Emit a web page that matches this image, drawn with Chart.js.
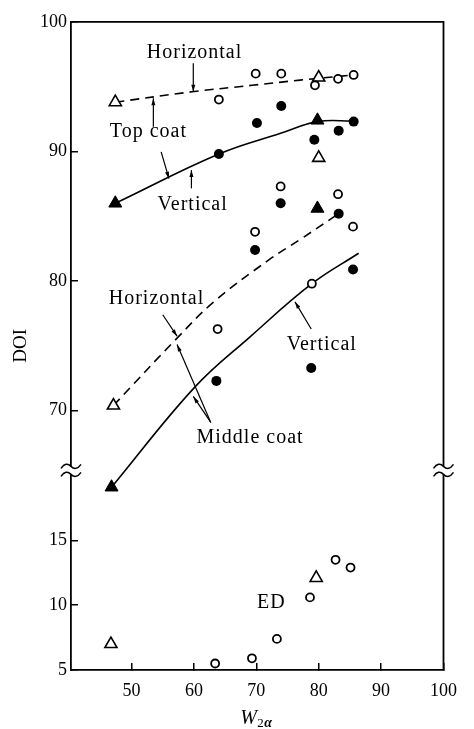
<!DOCTYPE html>
<html>
<head>
<meta charset="utf-8">
<script src="https://cdn.jsdelivr.net/npm/chart.js@4.4.0/dist/chart.umd.min.js"></script>
<style>
  html, body { margin: 0; padding: 0; background: #fff; }
  canvas { display: block; }
</style>
</head>
<body>
<canvas id="doiChart" width="474" height="729"></canvas>
<script>
// tick labels
const xTicks = [50, 60, 70, 80, 90, 100];
const yTicksLower = [5, 10, 15];
const yTicksUpper = [70, 80, 90, 100];

// measured points (W2a, DOI)
const openCircleX = [64.0, 69.9, 74.0, 79.4, 83.1, 85.6, 73.9, 83.1, 85.5, 69.8, 78.9, 63.8, 63.4, 69.3, 73.3, 78.6, 82.7, 85.1];
const openCircleY = [94.0, 96.0, 96.0, 95.1, 95.6, 95.9, 87.3, 86.7, 84.2, 83.8, 79.8, 76.3, 5.5, 5.9, 7.4, 10.6, 13.5, 12.9];

const filledCircleX = [64.0, 70.1, 74.0, 79.3, 83.2, 85.6, 73.9, 83.2, 69.8, 85.5, 63.6, 78.8];
const filledCircleY = [89.8, 92.2, 93.5, 90.9, 91.6, 92.3, 86.0, 85.2, 82.4, 80.9, 72.3, 73.3];

const openTriangleX = [47.4, 80.0, 80.0, 47.1, 46.7, 79.6];
const openTriangleY = [93.8, 95.7, 89.5, 70.4, 7.0, 12.1];

const filledTriangleX = [47.4, 79.8, 79.8, 46.8];
const filledTriangleY = [86.0, 92.4, 85.6, 64.1];

// fitted curves
const topHorizontalX = [47.4, 59.7, 69.3, 77.0, 85.6];
const topHorizontalY = [93.8, 94.6, 95.1, 95.5, 95.9];
const topVerticalX = [47.4, 64.0, 73.9, 79.8, 85.6];
const topVerticalY = [86.0, 89.8, 91.4, 92.3, 92.35];
const middleHorizontalX = [47.1, 57.3, 63.2, 71.9, 77.0, 83.2];
const middleHorizontalY = [70.4, 75.6, 78.4, 81.6, 83.2, 85.2];
const middleVerticalX = [46.8, 60.1, 69.0, 78.9, 86.4];
const middleVerticalY = [64.1, 71.8, 75.7, 79.8, 82.15];

// broken axis: upper part shifted down by 45
const toAxis = v => (v > 40 ? v - 45 : v);
const fromAxis = v => (v > 20 ? v + 45 : v);
const breakAt = 20.4;

const serif = '"Liberation Serif", "DejaVu Serif", serif';

function pts(xs, ys) {
  return xs.map((x, i) => ({ x: x, y: toAxis(ys[i]) }));
}

function curve(xs, ys, dashed) {
  return {
    data: pts(xs, ys),
    showLine: true,
    borderColor: '#000',
    borderWidth: 1.6,
    borderDash: dashed ? [9, 6] : [],
    pointRadius: 0,
    tension: 0.4,
    order: 2
  };
}

// annotation texts and leader lines (data units)
const notes = [
  { text: 'Horizontal', x: 60.1, y: 97.2 },
  { text: 'Top coat', x: 52.7, y: 91.1 },
  { text: 'Vertical', x: 59.8, y: 85.5 },
  { text: 'Horizontal', x: 54.0, y: 78.2 },
  { text: 'Vertical', x: 80.5, y: 74.7 },
  { text: 'Middle coat', x: 69.0, y: 67.5 },
  { text: 'ED', x: 72.4, y: 9.8 }
];
const leaders = [
  [59.9, 96.8, 59.9, 94.6],
  [53.5, 91.9, 53.5, 94.1],
  [54.75, 89.97, 56.0, 87.9],
  [59.6, 87.15, 59.6, 88.56],
  [55.0, 77.4, 57.3, 75.75],
  [62.7, 69.1, 57.3, 75.1],
  [62.7, 69.1, 59.9, 71.1],
  [78.8, 76.3, 76.2, 78.4]
];

const decorPlugin = {
  id: 'decor',
  afterDatasetsDraw(chart) {
    const { ctx, chartArea: a, scales: { x, y } } = chart;
    const P = (vx, vy) => [x.getPixelForValue(vx), y.getPixelForValue(toAxis(vy))];
    ctx.save();
    ctx.strokeStyle = '#000';
    ctx.fillStyle = '#000';

    // frame top and right
    ctx.lineWidth = 1.8;
    ctx.beginPath();
    ctx.moveTo(a.left, a.top);
    ctx.lineTo(a.right, a.top);
    ctx.lineTo(a.right, a.bottom);
    ctx.stroke();

    // break marks on both vertical axes
    const yb = y.getPixelForValue(breakAt);
    [a.left, a.right].forEach(xb => {
      ctx.fillStyle = '#fff';
      ctx.fillRect(xb - 2, yb - 4, 4, 8);
      ctx.lineWidth = 1.5;
      [yb - 4, yb + 4].forEach(yy => {
        ctx.beginPath();
        ctx.moveTo(xb - 10, yy + 2);
        ctx.quadraticCurveTo(xb - 5, yy - 5, xb, yy);
        ctx.quadraticCurveTo(xb + 5, yy + 5, xb + 10, yy - 2);
        ctx.stroke();
      });
    });

    // leader lines with small arrow heads
    ctx.fillStyle = '#000';
    ctx.lineWidth = 1.2;
    leaders.forEach(l => {
      const [x1, y1] = P(l[0], l[1]);
      const [x2, y2] = P(l[2], l[3]);
      ctx.beginPath();
      ctx.moveTo(x1, y1);
      ctx.lineTo(x2, y2);
      ctx.stroke();
      const ang = Math.atan2(y2 - y1, x2 - x1);
      ctx.beginPath();
      ctx.moveTo(x2, y2);
      ctx.lineTo(x2 - 7 * Math.cos(ang) + 2 * Math.sin(ang), y2 - 7 * Math.sin(ang) - 2 * Math.cos(ang));
      ctx.lineTo(x2 - 7 * Math.cos(ang) - 2 * Math.sin(ang), y2 - 7 * Math.sin(ang) + 2 * Math.cos(ang));
      ctx.closePath();
      ctx.fill();
    });

    // annotation texts
    ctx.font = '20px ' + serif;
    ctx.letterSpacing = '1px';
    ctx.textAlign = 'center';
    ctx.textBaseline = 'alphabetic';
    notes.forEach(n => {
      const [px, py] = P(n.x, n.y);
      ctx.fillText(n.text, px, py);
    });

    // x axis title W2a
    ctx.letterSpacing = '0px';
    const cx = (a.left + a.right) / 2;
    ctx.textAlign = 'left';
    ctx.font = 'italic 20px ' + serif;
    ctx.fillText('W', cx - 17, 724);
    ctx.font = '13px ' + serif;
    ctx.fillText('2', cx, 727);
    ctx.font = 'italic bold 14px ' + serif;
    ctx.fillText('\u03b1', cx + 7, 727);
    ctx.restore();
  }
};

new Chart(document.getElementById('doiChart'), {
  type: 'scatter',
  data: {
    datasets: [
      curve(topHorizontalX, topHorizontalY, true),
      curve(topVerticalX, topVerticalY, false),
      curve(middleHorizontalX, middleHorizontalY, true),
      curve(middleVerticalX, middleVerticalY, false),
      {
        data: pts(openCircleX, openCircleY),
        pointStyle: 'circle', pointRadius: 4, pointBorderWidth: 1.8,
        backgroundColor: '#fff', borderColor: '#000', order: 1
      },
      {
        data: pts(filledCircleX, filledCircleY),
        pointStyle: 'circle', pointRadius: 5, pointBorderWidth: 0,
        backgroundColor: '#000', borderColor: '#000', order: 1
      },
      {
        data: pts(openTriangleX, openTriangleY),
        pointStyle: 'triangle', pointRadius: 7, pointBorderWidth: 1.6,
        backgroundColor: '#fff', borderColor: '#000', order: 1
      },
      {
        data: pts(filledTriangleX, filledTriangleY),
        pointStyle: 'triangle', pointRadius: 7.5, pointBorderWidth: 1,
        backgroundColor: '#000', borderColor: '#000', order: 1
      }
    ]
  },
  options: {
    responsive: false,
    animation: false,
    layout: { padding: { top: 19.5, right: 14, left: 0, bottom: 0 } },
    plugins: {
      legend: { display: false },
      tooltip: { enabled: false }
    },
    scales: {
      x: {
        type: 'linear',
        min: 40.3,
        max: 100,
        afterBuildTicks: s => { s.ticks = xTicks.map(v => ({ value: v })); },
        afterFit: s => { s.height = 59; },
        border: { display: true, color: '#000', width: 1.8 },
        grid: { drawOnChartArea: false, drawTicks: true, tickLength: -7, color: '#000', lineWidth: 1.5 },
        ticks: { color: '#000', padding: 17, maxRotation: 0, font: { family: serif, size: 18 } }
      },
      y: {
        type: 'linear',
        min: 5,
        max: 55,
        afterBuildTicks: s => {
          s.ticks = yTicksLower.concat(yTicksUpper.map(toAxis)).map(v => ({ value: v }));
        },
        afterFit: s => { s.width = 71; },
        border: { display: true, color: '#000', width: 1.8 },
        grid: { drawOnChartArea: false, drawTicks: true, tickLength: -7, color: '#000', lineWidth: 1.5 },
        ticks: {
          color: '#000', padding: 11,
          font: { family: serif, size: 18 },
          callback: v => String(fromAxis(v))
        },
        title: {
          display: true, text: 'DOI', color: '#000',
          padding: { top: 10, bottom: 0 },
          font: { family: serif, size: 19 }
        }
      }
    }
  },
  plugins: [decorPlugin]
});
</script>
</body>
</html>
